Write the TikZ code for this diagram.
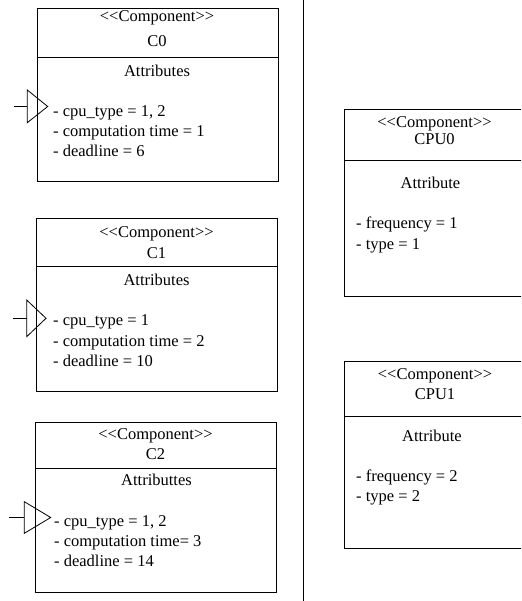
\documentclass[tikz,border=0pt]{standalone}
\usepackage{fontspec}
\setmainfont{Liberation Serif}
\begin{document}
\begin{tikzpicture}[x=1pt,y=-1pt,
  font=\fontsize{16.5}{19.8}\selectfont,
  box/.style={draw=black, line width=0.8pt, inner sep=0pt, anchor=north west, fill=none},
  rule/.style={draw=black, line width=0.8pt},
  hdr/.style={inner sep=0pt, anchor=base},
  item/.style={inner sep=0pt, anchor=base west},
  portline/.style={draw=black, line width=0.8pt, line join=miter}]
\useasboundingbox (0,0) rectangle (521,601);
\fill[white] (0,0) rectangle (521,601);
\clip (0,0) rectangle (521,601);

% separator
\coordinate (septop) at (303,0);
\coordinate (sepbot) at (303,601);
\draw[rule] (septop) -- (sepbot);

% ---------- C0 ----------
\node[box, minimum width=241pt, minimum height=173pt] (c0) at (37,8) {};
\coordinate (c0dl) at (37,57.3);
\coordinate (c0dr) at (278,57.3);
\draw[rule] (c0dl) -- (c0dr);
\node[hdr] (c0s) at (157,22) {<\kern0pt<Component>\kern0pt>};
\node[hdr] (c0n) at (157,46.5) {C0};
\node[hdr] (c0a) at (157,76.5) {Attributes};
\node[item] (c0i1) at (53,116.5) {- cpu\_type = 1, 2};
\node[item] (c0i2) at (53,136.5) {- computation time = 1};
\node[item] (c0i3) at (53,156.5) {- deadline = 6};
\coordinate (p0a) at (27.3,90);
\coordinate (p0b) at (27.3,122.7);
\coordinate (p0t) at (47.7,106.5);
\coordinate (p0m) at (27.3,106.5);
\coordinate (p0s) at (14,106.5);
\draw[portline] (p0a) -- (p0t) -- (p0b) -- cycle;
\draw[portline] (p0s) -- (p0m);

% ---------- C1 ----------
\node[box, minimum width=241pt, minimum height=173pt] (c1) at (36,218) {};
\coordinate (c1dl) at (36,266.7);
\coordinate (c1dr) at (277,266.7);
\draw[rule] (c1dl) -- (c1dr);
\node[hdr] (c1s) at (156.5,237) {<\kern0pt<Component>\kern0pt>};
\node[hdr] (c1n) at (156.5,258.3) {C1};
\node[hdr] (c1a) at (156.5,285.3) {Attributes};
\node[item] (c1i1) at (53,325.7) {- cpu\_type = 1};
\node[item] (c1i2) at (53,346) {- computation time = 2};
\node[item] (c1i3) at (53,366) {- deadline = 10};
\coordinate (p1a) at (26.7,300);
\coordinate (p1b) at (26.7,336.7);
\coordinate (p1t) at (46,318.3);
\coordinate (p1m) at (26.7,318.3);
\coordinate (p1s) at (13.3,318.3);
\draw[portline] (p1a) -- (p1t) -- (p1b) -- cycle;
\draw[portline] (p1s) -- (p1m);

% ---------- C2 ----------
\node[box, minimum width=241pt, minimum height=170.6pt] (c2) at (35,421.7) {};
\coordinate (c2dl) at (35,468.3);
\coordinate (c2dr) at (276,468.3);
\draw[rule] (c2dl) -- (c2dr);
\node[hdr] (c2s) at (155.5,439.3) {<\kern0pt<Component>\kern0pt>};
\node[hdr] (c2n) at (155.5,459.3) {C2};
\node[hdr] (c2a) at (156.5,485.3) {Attributtes};
\node[item] (c2i1) at (54,526) {- cpu\_type = 1, 2};
\node[item] (c2i2) at (54,546) {- computation time= 3};
\node[item] (c2i3) at (54,566) {- deadline = 14};
\coordinate (p2a) at (24.3,501.7);
\coordinate (p2b) at (24.3,533.3);
\coordinate (p2t) at (50.7,517.5);
\coordinate (p2m) at (24.3,517.5);
\coordinate (p2s) at (9.3,517.5);
\draw[portline] (p2a) -- (p2t) -- (p2b) -- cycle;
\draw[portline] (p2s) -- (p2m);

% ---------- CPU0 ----------
\node[box, minimum width=200pt, minimum height=186.4pt] (cpu0) at (344,109.3) {};
\coordinate (cpu0dl) at (344,160.7);
\coordinate (cpu0dr) at (544,160.7);
\draw[rule] (cpu0dl) -- (cpu0dr);
\node[hdr] (cpu0s) at (434.5,127.7) {<\kern0pt<Component>\kern0pt>};
\node[hdr] (cpu0n) at (434.5,144.3) {CPU0};
\node[hdr] (cpu0a) at (430.5,189) {Attribute};
\node[item] (cpu0i1) at (356,229) {- frequency = 1};
\node[item] (cpu0i2) at (356,249.3) {- type = 1};

% ---------- CPU1 ----------
\node[box, minimum width=200pt, minimum height=187.3pt] (cpu1) at (344,361) {};
\coordinate (cpu1dl) at (344,416);
\coordinate (cpu1dr) at (544,416);
\draw[rule] (cpu1dl) -- (cpu1dr);
\node[hdr] (cpu1s) at (435,379.3) {<\kern0pt<Component>\kern0pt>};
\node[hdr] (cpu1n) at (435,399.3) {CPU1};
\node[hdr] (cpu1a) at (432,441) {Attribute};
\node[item] (cpu1i1) at (356,481) {- frequency = 2};
\node[item] (cpu1i2) at (356,501) {- type = 2};
\end{tikzpicture}
\end{document}
